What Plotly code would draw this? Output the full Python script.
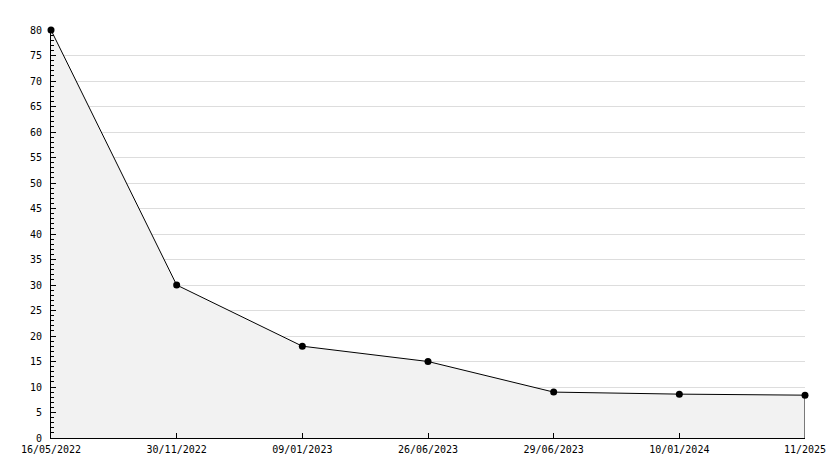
import plotly.graph_objects as go

categories = ["16/05/2022", "30/11/2022", "09/01/2023", "26/06/2023", "29/06/2023", "10/01/2024", "11/2025"]
values = [80, 30, 18, 15, 9, 8.6, 8.4]

y_tick_vals = list(range(0, 81, 5))

font = dict(family="DejaVu Sans Mono", size=10, color="#000000")

fig = go.Figure()
# filled area with outline closing down at the last category
fig.add_trace(go.Scatter(
    x=categories + [categories[-1]],
    y=values + [0],
    mode="lines",
    line=dict(color="#000000", width=1),
    fill="tozeroy",
    fillcolor="#f2f2f2",
    hoverinfo="skip",
    cliponaxis=False,
))
fig.add_trace(go.Scatter(
    x=categories,
    y=values,
    mode="markers",
    marker=dict(symbol="circle", size=7, color="#000000"),
    cliponaxis=False,
))

# page body adds an 8px margin, so the figure is sized to fit inside it
fig.update_layout(
    width=826, height=460,
    margin=dict(l=43, r=29, t=22, b=30, autoexpand=False),
    paper_bgcolor="#ffffff",
    plot_bgcolor="#ffffff",
    showlegend=False,
    font=font,
)
fig.update_xaxes(
    type="category",
    range=[0, len(categories) - 1],
    automargin=False,
    showgrid=False,
    showline=True, linecolor="#000000", linewidth=1,
    ticks="inside", ticklen=5, tickcolor="#000000", tickwidth=1,
    tickfont=font,
    ticklabelstandoff=2,
    zeroline=False,
)
fig.update_yaxes(
    range=[0, 80],
    automargin=False,
    tickvals=y_tick_vals,
    showgrid=True, gridcolor="#dddddd", gridwidth=1,
    showline=True, linecolor="#000000", linewidth=1,
    ticks="inside", ticklen=5, tickcolor="#000000", tickwidth=1,
    minor=dict(dtick=1, ticks="inside", ticklen=3, tickcolor="#000000", showgrid=False),
    tickfont=font,
    ticklabelstandoff=6,
    zeroline=False,
)

fig.write_html("out.html")
